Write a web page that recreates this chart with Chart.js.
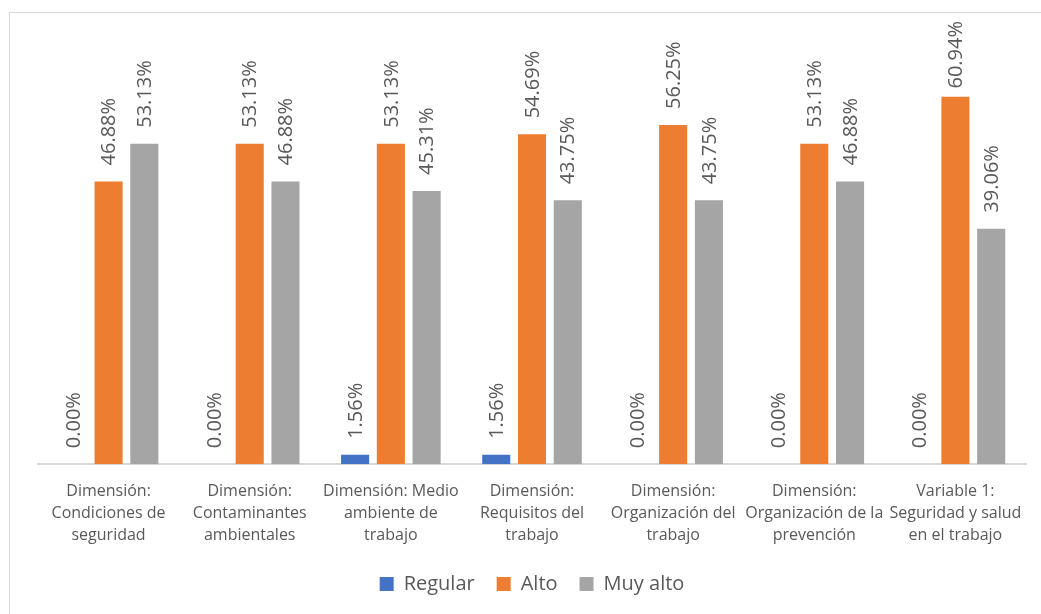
<!DOCTYPE html>
<html>
<head>
<meta charset="utf-8">
<script src="https://cdn.jsdelivr.net/npm/chart.js@4/dist/chart.umd.min.js"></script>
<style>
  html, body { margin: 0; padding: 0; background: #fff; }
  #wrap { position: relative; width: 1041px; height: 614px; overflow: hidden; }
  #frame { position: absolute; left: 9px; top: 12px; width: 1100px; height: 700px; border: 1px solid #d9d9d9; box-sizing: border-box; }
  #myChart { position: absolute; left: 0; top: 0; }
</style>
</head>
<body>
<div id="wrap">
  <div id="frame"></div>
  <canvas id="myChart" width="1041" height="614"></canvas>
</div>
<script>
let categorias = [
    ["Dimensión:", "Condiciones de", "seguridad"],
    ["Dimensión:", "Contaminantes", "ambientales"],
    ["Dimensión: Medio", "ambiente de", "trabajo"],
    ["Dimensión:", "Requisitos del", "trabajo"],
    ["Dimensión:", "Organización del", "trabajo"],
    ["Dimensión:", "Organización de la", "prevención"],
    ["Variable 1:", "Seguridad y salud", "en el trabajo"]
];
let regular  = [0, 0, 1.56, 1.56, 0, 0, 0];
let alto     = [46.88, 53.13, 53.13, 54.69, 56.25, 53.13, 60.94];
let muyAlto  = [53.13, 46.88, 45.31, 43.75, 43.75, 46.88, 39.06];
let series   = ["Regular", "Alto", "Muy alto"];
let yMax     = 70;

let fuente = "'Open Sans', 'Noto Sans', sans-serif";
let gris   = "#595959";

// etiquetas verticales encima de cada barra (sin salirse del marco)
const etiquetas = {
    id: "etiquetas",
    afterDatasetsDraw(chart) {
        const ctx = chart.ctx;
        ctx.save();
        ctx.font = "20px " + fuente;
        ctx.fillStyle = gris;
        ctx.textAlign = "left";
        ctx.textBaseline = "middle";
        chart.data.datasets.forEach((ds, i) => {
            chart.getDatasetMeta(i).data.forEach((bar, j) => {
                const txt = ds.data[j].toFixed(2) + "%";
                const w = ctx.measureText(txt).width;
                let y0 = bar.y - 16;
                if (y0 - w < 21) y0 = 21 + w;
                ctx.save();
                ctx.translate(bar.x + 1, y0);
                ctx.rotate(-Math.PI / 2);
                ctx.fillText(txt, 0, 0);
                ctx.restore();
            });
        });
        ctx.restore();
    }
};

const ctx = document.getElementById("myChart").getContext("2d");
const myChart = new Chart(ctx, {
    type: "bar",
    data: {
        labels: categorias,
        datasets: [
            { label: series[0], data: regular, backgroundColor: "#4472C4" },
            { label: series[1], data: alto,    backgroundColor: "#ED7D31" },
            { label: series[2], data: muyAlto, backgroundColor: "#A5A5A5" }
        ]
    },
    options: {
        responsive: false,
        animation: false,
        layout: { padding: { left: 38, right: 15, top: 42, bottom: 10 } },
        datasets: {
            bar: { categoryPercentage: 0.76, barPercentage: 0.785 }
        },
        scales: {
            x: {
                grid: { display: false },
                border: { display: true, color: "#d9d9d9", width: 2 },
                ticks: {
                    color: gris,
                    font: { family: fuente, size: 16, lineHeight: 1.37 },
                    padding: 8,
                    maxRotation: 0,
                    autoSkip: false
                },
                afterFit(scale) {
                    scale.height -= 2;
                }
            },
            y: {
                display: false,
                min: 0,
                max: yMax
            }
        },
        plugins: {
            tooltip: { enabled: false },
            legend: {
                position: "bottom",
                labels: {
                    color: gris,
                    font: { family: fuente, size: 20 },
                    boxWidth: 14,
                    boxHeight: 14,
                    padding: 22
                }
            }
        }
    },
    plugins: [etiquetas]
});
</script>
</body>
</html>
